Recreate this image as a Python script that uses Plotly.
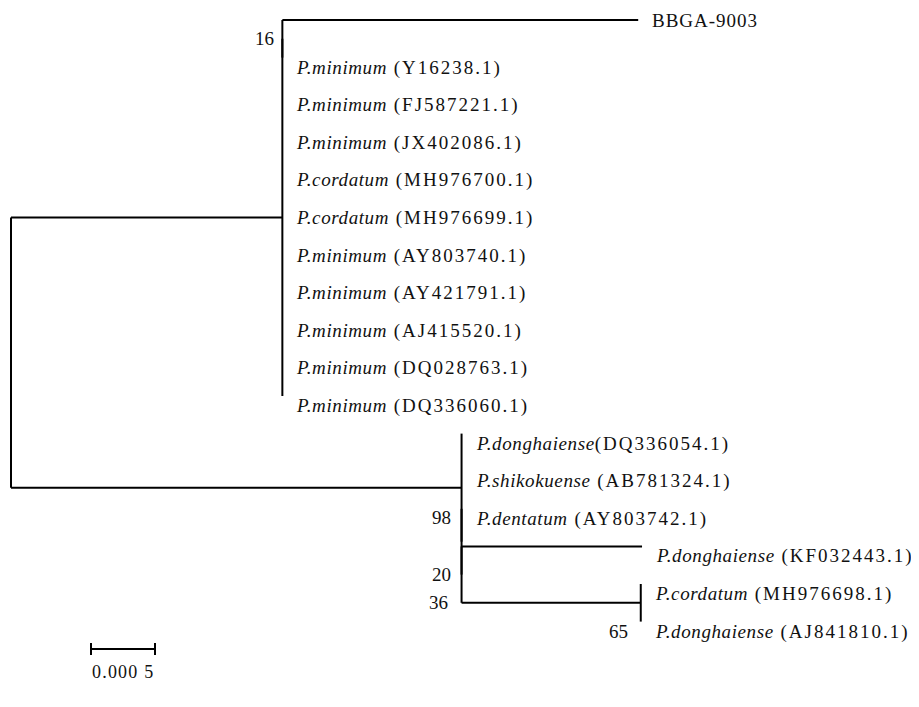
import plotly.graph_objects as go

# ---------------- data ----------------
tip_species = ["", "P.minimum", "P.minimum", "P.minimum", "P.cordatum", "P.cordatum",
               "P.minimum", "P.minimum", "P.minimum", "P.minimum", "P.minimum",
               "P.donghaiense", "P.shikokuense", "P.dentatum", "P.donghaiense",
               "P.cordatum", "P.donghaiense"]
tip_accession = ["BBGA-9003", " (Y16238.1)", " (FJ587221.1)", " (JX402086.1)", " (MH976700.1)",
                 " (MH976699.1)", " (AY803740.1)", " (AY421791.1)", " (AJ415520.1)",
                 " (DQ028763.1)", " (DQ336060.1)", "(DQ336054.1)", " (AB781324.1)",
                 " (AY803742.1)", " (KF032443.1)", " (MH976698.1)", " (AJ841810.1)"]
tip_parent = ["A", "A", "U", "U", "U", "U", "U", "U", "U", "U", "U",
              "L", "L", "N2", "N3", "S", "S"]
tip_branch = [0.00278, 0, 0, 0, 0, 0, 0, 0, 0, 0, 0,
              0, 0, 0, 0.00141, 0, 0]

node_names = ["root", "U", "A", "L", "N2", "N3", "S"]
node_parent = [None, "root", "U", "root", "L", "N2", "N3"]
node_branch = [0.0, 0.00212, 0.0, 0.00352, 0.0, 0.0, 0.0014]
node_bootstrap = [None, None, 16, 98, 20, 36, 65]

scale_length = 0.0005
scale_label = "0.000 5"

# ---------------- layout constants ----------------
PAGE = 8                      # default page margin around the figure
W, H = 919 - PAGE, 707 - PAGE
PX_PER_UNIT = 128000.0
X0_PX = 11.0 - PAGE
ROW0_PX = 20.0 - PAGE
ROW_PX = 37.6
FONT = "Liberation Serif"
FS = 19

# ---------------- tree geometry ----------------
x = {}
for name, par, bl in zip(node_names, node_parent, node_branch):
    x[name] = 0.0 if par is None else x[par] + bl

tip_x = [x[p] + b for p, b in zip(tip_parent, tip_branch)]
tip_y = list(range(len(tip_species)))

children = {n: [] for n in node_names}
for i, p in enumerate(tip_parent):
    children[p].append(("tip", i))
for n, p in zip(node_names, node_parent):
    if p is not None:
        children[p].append(("node", n))

y = {}
def child_y(c):
    return tip_y[c[1]] if c[0] == "tip" else y[c[1]]

for n in reversed(node_names):
    ys = [child_y(c) for c in children[n]]
    y[n] = (min(ys) + max(ys)) / 2.0

lx, ly = [], []
for n in node_names:
    ys = [child_y(c) for c in children[n]]
    lx += [x[n], x[n], None]
    ly += [min(ys), max(ys), None]
for n, p in zip(node_names, node_parent):
    if p is not None and x[n] > x[p]:
        lx += [x[p], x[n], None]
        ly += [y[n], y[n], None]
for i, p in enumerate(tip_parent):
    if tip_x[i] > x[p]:
        lx += [x[p], tip_x[i], None]
        ly += [tip_y[i], tip_y[i], None]

fig = go.Figure()
fig.add_trace(go.Scatter(x=lx, y=ly, mode="lines",
                         line=dict(color="black", width=2),
                         hoverinfo="skip", showlegend=False))

# scale bar
sb_x0 = (91 - 11) / PX_PER_UNIT
sb_y = (649 - 20) / ROW_PX
tick = 6.0 / ROW_PX
sbx = [sb_x0, sb_x0 + scale_length, None, sb_x0, sb_x0, None,
       sb_x0 + scale_length, sb_x0 + scale_length]
sby = [sb_y, sb_y, None, sb_y - tick, sb_y + tick, None, sb_y - tick, sb_y + tick]
fig.add_trace(go.Scatter(x=sbx, y=sby, mode="lines",
                         line=dict(color="black", width=2),
                         hoverinfo="skip", showlegend=False))

annotations = []
for i in range(len(tip_species)):
    sp = tip_species[i]
    acc = tip_accession[i]
    if sp:
        txt = ('<span style="letter-spacing:0.6px"><i>' + sp + '</i></span>'
               '<span style="letter-spacing:2px">' + acc + '</span>')
        dy = -10
    else:
        txt = '<span style="letter-spacing:1px">' + acc + '</span>'
        dy = 0
    annotations.append(dict(x=tip_x[i], y=tip_y[i], text=txt, showarrow=False,
                            xanchor="left", yanchor="middle", xshift=12, yshift=dy,
                            font=dict(family=FONT, size=FS, color="#111")))

boot_offsets = {"A": (-6, 0), "L": (-9, -30), "N2": (-9, -33),
                "N3": (-12, -28), "S": (-11, -29)}
for n, b in zip(node_names, node_bootstrap):
    if b is None:
        continue
    dx, dy = boot_offsets[n]
    annotations.append(dict(x=x[n], y=y[n], text=str(b), showarrow=False,
                            xanchor="right", yanchor="middle", xshift=dx, yshift=dy,
                            font=dict(family=FONT, size=FS, color="#111")))

annotations.append(dict(x=sb_x0 + scale_length / 2, y=sb_y,
                        text='<span style="letter-spacing:1.2px">' + scale_label + '</span>',
                        showarrow=False, xanchor="center", yanchor="middle",
                        yshift=-23,
                        font=dict(family=FONT, size=FS - 1, color="#111")))

fig.update_layout(
    width=W, height=H,
    margin=dict(l=0, r=0, t=0, b=0),
    paper_bgcolor="white", plot_bgcolor="white",
    xaxis=dict(range=[-X0_PX / PX_PER_UNIT, (W - X0_PX) / PX_PER_UNIT],
               visible=False, fixedrange=True),
    yaxis=dict(range=[(H - ROW0_PX) / ROW_PX, -ROW0_PX / ROW_PX],
               visible=False, fixedrange=True),
    annotations=annotations,
    showlegend=False,
)

fig.write_html("out.html")
